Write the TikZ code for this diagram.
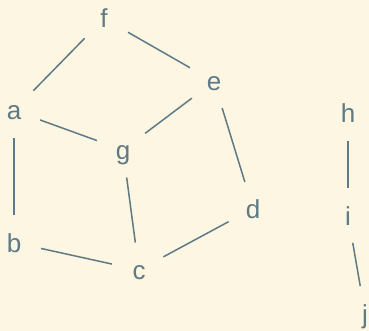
\documentclass[tikz,border=0pt]{standalone}
\usepackage{fontspec}
\setmainfont{Liberation Sans}
\usepackage{tikz}
\usetikzlibrary{positioning}
\usepackage{xcolor}
\definecolor{paper}{HTML}{FDF6E3}
\definecolor{ink}{HTML}{5E7A85}

\begin{document}
\begin{tikzpicture}[x=1pt,y=-1pt,
    vertex/.style={circle,inner sep=0pt,minimum size=55pt,text=ink,
      font=\fontsize{26}{30}\selectfont,text height=19pt,text depth=0pt},
    link/.style={draw=ink,line width=1.5pt}]
  % background and page size
  \fill[paper] (0,0) rectangle (369,331);
  \useasboundingbox (0,0) rectangle (369,331);

  % left component
  \node[vertex] (f) at (104,18.5) {f};
  \node[vertex] (e) at (214,81.5) {e};
  \node[vertex] (a) at (14,110.5) {a};
  \node[vertex] (g) at (123,150) {g};
  \node[vertex] (d) at (253,208.5) {d};
  \node[vertex] (b) at (14,242.5) {b};
  \node[vertex] (c) at (139,270) {c};

  % right component
  \node[vertex] (h) at (348,113.5) {h};
  \node[vertex] (i) at (348,215.5) {i};
  \node[vertex] (j) at (365,313.5) {j};

  % edges
  \draw[link] (f) -- (a);
  \draw[link] (f) -- (e);
  \draw[link] (a) -- (g);
  \draw[link] (a) -- (b);
  \draw[link] (e) -- (g);
  \draw[link] (e) -- (d);
  \draw[link] (g) -- (c);
  \draw[link] (b) -- (c);
  \draw[link] (c) -- (d);
  \draw[link] (h) -- (i);
  \draw[link] (i) -- (j);
\end{tikzpicture}
\end{document}
